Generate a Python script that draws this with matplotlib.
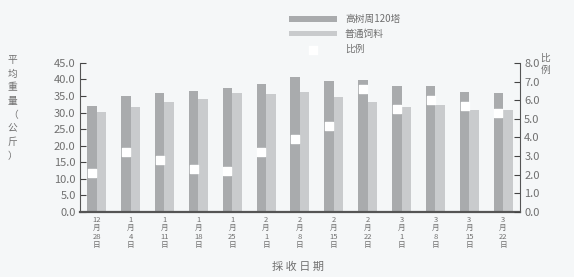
"""Grouped bars (weight) with ratio markers on a twin axis."""

import matplotlib.pyplot as plt
import numpy as np

plt.rcParams["font.family"] = ["Noto Sans CJK SC", "DejaVu Sans"]

dates = [
    "12\n月\n28\n日", "1\n月\n4\n日", "1\n月\n11\n日", "1\n月\n18\n日",
    "1\n月\n25\n日", "2\n月\n1\n日", "2\n月\n8\n日", "2\n月\n15\n日",
    "2\n月\n22\n日", "3\n月\n1\n日", "3\n月\n8\n日", "3\n月\n15\n日",
    "3\n月\n22\n日",
]
high_feed = [32.0, 35.0, 36.0, 36.5, 37.4, 38.6, 40.6, 39.4, 39.9, 37.9, 38.1, 36.3, 35.9]
normal_feed = [30.3, 31.8, 33.3, 34.0, 35.9, 35.6, 36.2, 34.8, 33.3, 31.8, 32.3, 30.8, 30.8]
ratio = [2.1, 3.2, 2.8, 2.3, 2.2, 3.2, 3.9, 4.6, 6.6, 5.5, 6.0, 5.7, 5.3]

x = np.arange(len(dates))
w = 0.28

fig = plt.figure(figsize=(5.74, 2.77), dpi=100)
fig.patch.set_facecolor("#f5f7f8")
ax = fig.add_axes([0.139, 0.235, 0.767, 0.538])
ax.set_facecolor("#f5f7f8")

b1 = ax.bar(x - w / 2, high_feed, w, color="#a9abad", label="高树周120塔")
b2 = ax.bar(x + w / 2, normal_feed, w, color="#c9cbcd", label="普通饲料")

ax.set_xlim(-0.5, len(dates) - 0.5)
ax.set_ylim(0, 45)
ax.set_yticks(np.arange(0, 46, 5))
ax.set_yticklabels([f"{v:.1f}" for v in np.arange(0, 46, 5)], fontsize=8, color="#707070")
ax.set_xticks(x)
ax.set_xticklabels(dates, fontsize=5.5, color="#707070", linespacing=1.05)
ax.tick_params(axis="y", direction="in", length=4, color="#444", pad=3)
ax.tick_params(axis="x", length=0, pad=3)
ax.spines["top"].set_visible(False)
ax.spines["bottom"].set_linewidth(1.6)
ax.spines["bottom"].set_color("#555")
ax.spines["left"].set_color("#555")
ax.spines["right"].set_visible(False)

ax2 = ax.twinx()
m = ax2.scatter(x - w / 2, ratio, marker="s", s=36, color="white", zorder=3, label="比例")
ax2.set_ylim(0, 8)
ax2.set_yticks(np.arange(0, 9, 1))
ax2.set_yticklabels([f"{v:.1f}" for v in np.arange(0, 9, 1)], fontsize=8, color="#707070")
ax2.tick_params(axis="y", direction="in", length=4, color="#444", pad=3)
ax2.spines["top"].set_visible(False)
ax2.spines["left"].set_visible(False)
ax2.spines["bottom"].set_visible(False)
ax2.spines["right"].set_color("#555")

fig.text(0.022, 0.8, "平\n均\n重\n量\n（\n公\n斤\n）", fontsize=7, color="#707070",
         va="top", ha="center", linespacing=1.45)
fig.text(0.95, 0.81, "比\n例", fontsize=7, color="#707070", va="top", ha="center",
         linespacing=1.3)
fig.text(0.52, 0.025, "採 收 日 期", fontsize=8, color="#707070", ha="center")

fig.legend(
    handles=[b1, b2, m],
    loc="upper center",
    bbox_to_anchor=(0.6, 0.98),
    frameon=False,
    fontsize=7,
    handlelength=5,
    handleheight=0.5,
    labelspacing=0.5,
    labelcolor="#707070",
)

fig.savefig("out.png", dpi=100, facecolor=fig.get_facecolor())
